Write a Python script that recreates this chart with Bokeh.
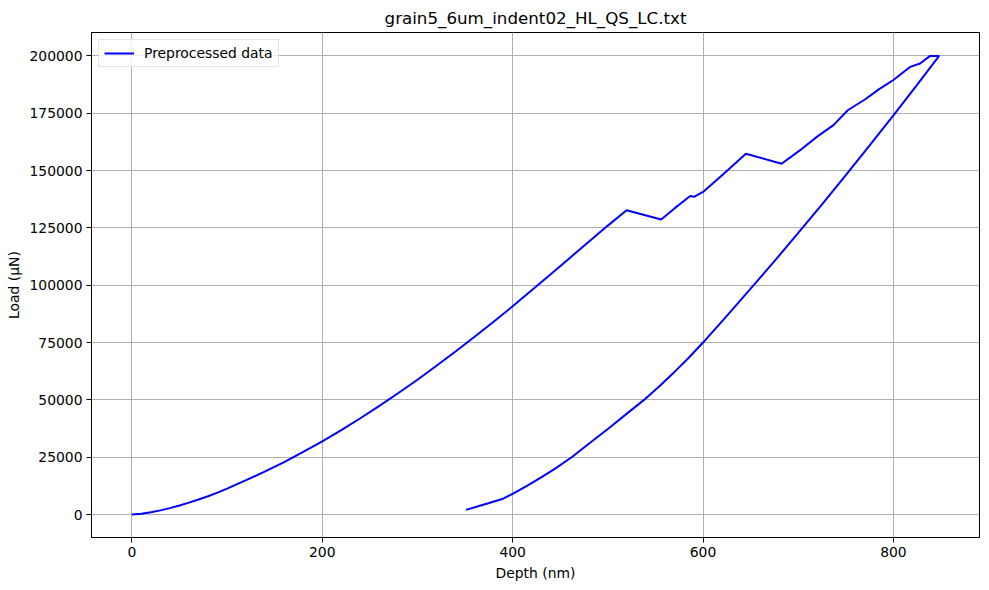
from bokeh.plotting import figure
from bokeh.models import FixedTicker, Range1d, NumeralTickFormatter
from bokeh.embed import file_html
from bokeh.resources import INLINE

title_text = "grain5_6um_indent02_HL_QS_LC.txt"
x_label = "Depth (nm)"
y_label = "Load (μN)"
series_name = "Preprocessed data"

x_ticks = [0, 200, 400, 600, 800]
y_ticks = [0, 25000, 50000, 75000, 100000, 125000, 150000, 175000, 200000]

# loading segment (depth nm, load uN)
load_depth = [0, 10, 20, 30, 40, 50, 60, 70, 80, 90, 100, 120, 140, 160, 180,
              200, 220, 240, 260, 280, 300, 320, 340, 360, 380, 400,
              420, 440, 460, 480, 500, 519.7, 556, 570, 586.5, 591, 600, 620,
              645, 682.5, 702, 719.5, 737, 752, 770, 785, 800, 810, 817.5,
              828, 838.5, 848]
load_load = [0, 350, 990, 1820, 2810, 3930, 5180, 6540, 8000, 9560, 11300,
             15000, 18800, 22900, 27300, 31900, 36800, 42000, 47400, 53000,
             58800, 64900, 71100, 77500, 84100, 90800, 97800, 104800,
             111900, 119000, 126000, 132700, 128700, 133500, 138900, 138600,
             140700, 148000, 157300, 153000, 158900, 164700, 169800, 176300,
             181000, 185500, 189500, 192800, 195200, 196700, 200000, 200000]

# unloading segment
unload_depth = [848, 825, 800, 775, 750, 725, 700, 675, 650, 625, 600, 585,
                570, 555, 538, 520, 500, 480, 462, 445, 430, 415, 400, 390,
                370, 351]
unload_load = [200000, 187500, 174100, 161000, 148000, 135300, 122800, 110500,
               98500, 86600, 75000, 68400, 62200, 56250, 50000, 44000, 37300,
               30900, 25000, 20150, 16200, 12500, 9050, 6900, 4400, 2050]

depth = load_depth + unload_depth
load = load_load + unload_load

FONT = "DejaVu Sans"

p = figure(
    frame_width=888, frame_height=505,
    x_range=Range1d(-42.4, 890.4), y_range=Range1d(-10010, 210210),
    output_backend="svg", toolbar_location=None,
    min_border_left=91, min_border_right=1, min_border_top=26, min_border_bottom=45,
    background_fill_color="white", border_fill_color="white",
)

p.title.text = title_text
p.title.align = "center"
p.title.text_font = FONT
p.title.text_font_size = "16.7px"
p.title.text_font_style = "normal"
p.title.text_color = "black"

p.line(depth, load, line_color="blue", line_width=2, legend_label=series_name)

p.xaxis.ticker = FixedTicker(ticks=x_ticks)
p.yaxis.ticker = FixedTicker(ticks=y_ticks)
p.yaxis.formatter = NumeralTickFormatter(format="0")
p.xaxis.axis_label = x_label
p.yaxis.axis_label = y_label

for ax in (p.xaxis, p.yaxis):
    ax.axis_label_text_font = FONT
    ax.axis_label_text_font_size = "13.9px"
    ax.axis_label_text_font_style = "normal"
    ax.axis_label_text_color = "black"
    ax.major_label_text_font = FONT
    ax.major_label_text_font_size = "13.9px"
    ax.major_label_text_color = "black"
    ax.axis_line_color = "black"
    ax.axis_line_width = 1
    ax.major_tick_line_color = "black"
    ax.major_tick_out = 5
    ax.major_tick_in = 0
    ax.minor_tick_line_color = None
    ax.major_label_standoff = 4
    ax.axis_label_standoff = 5
p.yaxis.axis_label_standoff = 4

p.grid.grid_line_color = "#b0b0b0"
p.grid.grid_line_width = 1
p.outline_line_color = "black"
p.outline_line_width = 1
p.outline_line_alpha = 1

lg = p.legend[0]
lg.location = "top_left"
lg.margin = 7
lg.padding = 5
lg.spacing = 0
lg.glyph_width = 30
lg.glyph_height = 14
lg.label_height = 14
lg.label_standoff = 10
lg.label_text_font = FONT
lg.label_text_font_size = "13.9px"
lg.label_text_color = "black"
lg.border_line_color = "#cccccc"
lg.border_line_width = 1
lg.background_fill_alpha = 0.8

open("out.html", "w").write(file_html(p, INLINE))
